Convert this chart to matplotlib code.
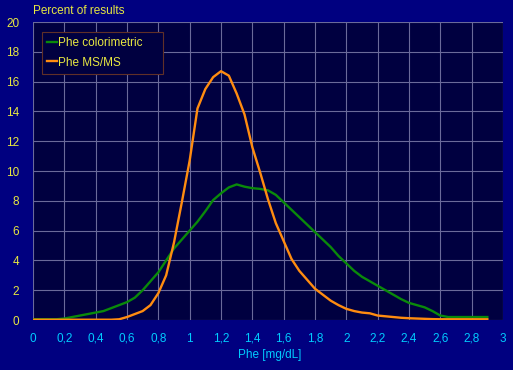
import numpy as np
import matplotlib.pyplot as plt

# Phe concentration (mg/dL) and percent of results
phe = np.round(np.arange(0, 2.901, 0.05), 2)

colorimetric = [0.05, 0.05, 0.05, 0.05, 0.1, 0.2, 0.3, 0.4, 0.5, 0.6,
                0.8, 1.0, 1.2, 1.5, 2.0, 2.6, 3.2, 4.0, 4.8, 5.4,
                6.0, 6.6, 7.3, 8.05, 8.5, 8.9, 9.1, 8.95, 8.85, 8.8,
                8.7, 8.4, 7.9, 7.4, 6.9, 6.4, 5.9, 5.4, 4.9, 4.3,
                3.8, 3.3, 2.9, 2.6, 2.3, 2.0, 1.7, 1.4, 1.15, 1.0,
                0.85, 0.6, 0.3, 0.2, 0.2, 0.2, 0.2, 0.2, 0.2]

msms = [0.02, 0.02, 0.02, 0.02, 0.02, 0.02, 0.02, 0.02, 0.02, 0.02,
        0.02, 0.05, 0.2, 0.4, 0.6, 1.0, 1.8, 3.0, 5.2, 7.9,
        10.7, 14.2, 15.5, 16.3, 16.7, 16.4, 15.2, 13.8, 11.6, 9.9,
        8.1, 6.5, 5.3, 4.1, 3.3, 2.7, 2.1, 1.7, 1.3, 1.0,
        0.75, 0.6, 0.5, 0.45, 0.3, 0.25, 0.2, 0.15, 0.12, 0.1,
        0.08, 0.06, 0.05, 0.05, 0.05, 0.05, 0.05, 0.05, 0.05]

xticks = np.round(np.arange(0, 3.01, 0.2), 1)
xlabels = [('%g' % v).replace('.', ',') for v in xticks]
yticks = list(range(0, 21, 2))

fig_bg = '#000080'
ax_bg = '#000040'
yellow = '#e8e840'
cyan = '#00ccff'

plt.rcParams['font.family'] = ['Liberation Sans', 'DejaVu Sans']

fig = plt.figure(figsize=(5.13, 3.70), dpi=100, facecolor=fig_bg)
ax = fig.add_axes([0.0643, 0.1351, 0.9162, 0.8054], facecolor=ax_bg)

ax.plot(phe, colorimetric, color='#0a8a0a', lw=1.7, label='Phe colorimetric')
ax.plot(phe, msms, color='#ff8c10', lw=1.7, label='Phe MS/MS')

ax.set_xlim(0, 3)
ax.set_ylim(0, 20)
ax.set_xticks(xticks)
ax.set_xticklabels(xlabels)
ax.set_yticks(yticks)
ax.grid(True, color='#6a6a9a', lw=0.8)
ax.set_axisbelow(True)
for s in ax.spines.values():
    s.set_visible(False)
ax.tick_params(length=0)
ax.tick_params(axis='x', colors=cyan, labelsize=8.5, pad=9)
ax.tick_params(axis='y', colors=yellow, labelsize=8.5, pad=10)

fig.text(0.0643, 0.955, 'Percent of results', color=yellow, fontsize=8.5,
         ha='left', va='bottom')
fig.text(0.525, 0.04, 'Phe [mg/dL]', color=cyan, fontsize=8.5,
         ha='center', va='center')

leg = ax.legend(loc='upper left', bbox_to_anchor=(0.019, 0.966, 0.258, 0.0),
                mode='expand', fontsize=8.5, handlelength=0.8,
                handletextpad=0.15, borderpad=0.45, borderaxespad=0,
                labelspacing=0.6, fancybox=False, framealpha=1,
                facecolor=ax_bg, edgecolor='#603028')
leg.get_frame().set_linewidth(0.8)
for t in leg.get_texts():
    t.set_color(yellow)

fig.savefig('out.png', dpi=100, facecolor=fig_bg)
